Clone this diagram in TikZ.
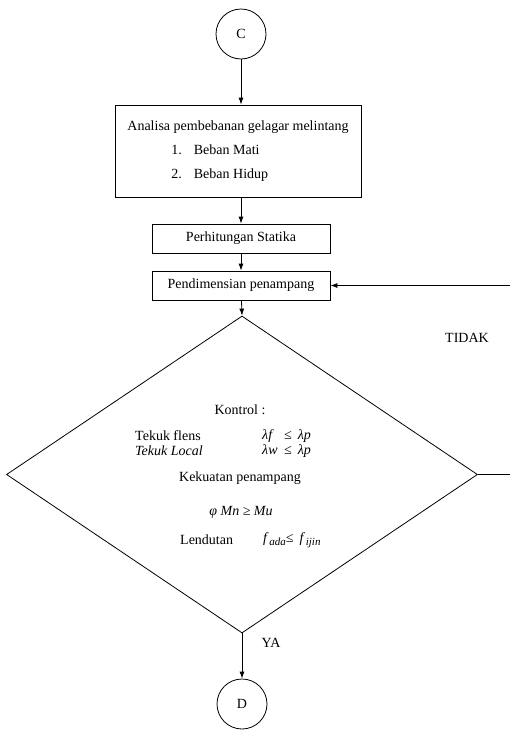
\documentclass[tikz,border=0pt]{standalone}
\usepackage{fontspec}
\setmainfont{Liberation Serif}
\usepackage{tikz}
\usetikzlibrary{arrows.meta}
\usetikzlibrary{shapes.geometric}

\newcommand{\sub}[1]{\raisebox{-2.5pt}{\fontsize{11}{11}\selectfont #1}}

\tikzset{
 box/.style={draw, line width=0.8pt, inner sep=0pt},
 terminal/.style={draw, circle, line width=0.8pt, minimum size=50pt, inner sep=0pt},
 flow/.style={-{Latex[length=7pt, width=5pt]}, line width=0.8pt},
 txt/.style={inner sep=0pt, anchor=west}
}

\begin{document}
\begin{tikzpicture}[x=1pt, y=-1pt, every node/.style={font=\fontsize{14}{17}\selectfont}]
 \useasboundingbox (0,0) rectangle (509,734);

 \node[terminal] (C) at (241,34) {C};
 \node[box, minimum width=246pt, minimum height=92pt, align=left] (analisa) at (238,151)
   {Analisa pembebanan gelagar melintang\\[7pt]
    \hspace*{44pt}1.\hspace{12pt}Beban Mati\\[7pt]
    \hspace*{44pt}2.\hspace{12pt}Beban Hidup};
 \node[box, minimum width=178pt, minimum height=29pt] (statika) at (241,238.5) {Perhitungan Statika};
 \node[box, minimum width=178pt, minimum height=29pt] (dimensi) at (241,285.5) {Pendimensian penampang};
 \node[draw, diamond, line width=0.8pt, minimum width=471pt, minimum height=317pt, inner sep=0pt] (kontrol) at (242,474.5) {};
 \node[terminal] (D) at (242,704) {D};

 % isi kontrol
 \node[inner sep=0pt] (judul) at (240,410) {Kontrol :};
 \node[txt] (flens) at (135,436) {Tekuk flens};
 \node[txt] (flensrumus) at (262,436) {\textit{\makebox[22pt][l]{λf}≤\hspace{6pt}λp}};
 \node[txt] (local) at (135,451) {\textit{Tekuk Local}};
 \node[txt] (localrumus) at (262,451) {\textit{\makebox[22pt][l]{λw}≤\hspace{6pt}λp}};
 \node[inner sep=0pt] (kuat) at (240,478) {Kekuatan penampang};
 \node[inner sep=0pt] (kuatrumus) at (241,512) {\textit{φ Mn ≥ Mu}};
 \node[txt] (lendut) at (180,540) {Lendutan};
 \node[txt] (lendutrumus) at (263,540) {\textit{f\,\sub{ada}≤\hspace{6pt}f\,\sub{ijin}}};

 \draw[flow] (C) -- (C |- analisa.north);
 \draw[flow] (C |- analisa.south) -- (statika);
 \draw[flow] (statika) -- (dimensi);
 \draw[flow] (dimensi) -- (kontrol.north);
 \draw[flow] (kontrol.south) -- (D) node[pos=0.22, right, xshift=16pt] (ya) {YA};
 \draw[flow] (kontrol.east) -- ++(40,0) |- (dimensi.east);
 \node (tidak) at (467,338) {TIDAK};
\end{tikzpicture}
\end{document}
